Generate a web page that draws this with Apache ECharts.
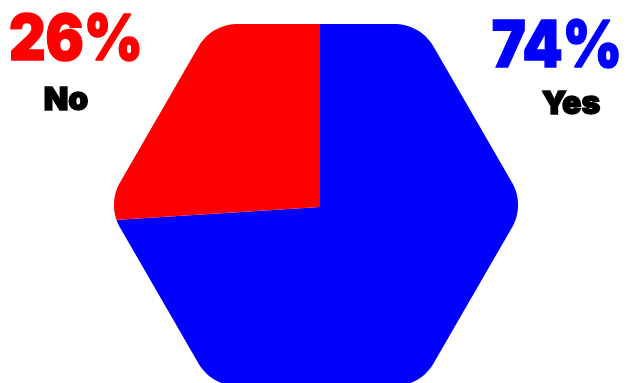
<!DOCTYPE html>
<html>
<head>
<meta charset="utf-8">
<script src="https://cdn.jsdelivr.net/npm/echarts@6/dist/echarts.min.js"></script>
<style>
html,body{margin:0;padding:0;background:#fff;}
#chart{width:628px;height:383px;}
</style>
</head>
<body>
<div id="chart"></div>
<script>
const categories = ['Yes', 'No'];
const values = [74, 26];
const colors = ['#0000ff', '#ff0000'];

const chart = echarts.init(document.getElementById('chart'), null, {renderer: 'canvas'});

// rounded hexagon mask (white outside the hexagon)
const hx = 316, hy = 205, R = 209, cr = 45;
function maskPoints() {
  const pts = [];
  const apo = R * Math.cos(Math.PI / 6);
  pts.push([hx, 700], [-200, 700], [-200, -200], [900, -200], [900, 700], [hx, 700]);
  pts.push([hx, hy + apo]);
  const d = cr / Math.sin(Math.PI / 3);
  const verts = [60, 0, -60, -120, -180, -240];
  verts.forEach(function (deg) {
    const t = deg * Math.PI / 180;
    const vx = hx + R * Math.cos(t), vy = hy + R * Math.sin(t);
    const ax = vx - d * Math.cos(t), ay = vy - d * Math.sin(t);
    for (let k = 0; k <= 20; k++) {
      const p = (deg + 30 - 60 * k / 20) * Math.PI / 180;
      pts.push([ax + cr * Math.cos(p), ay + cr * Math.sin(p)]);
    }
  });
  pts.push([hx, hy + apo]);
  return pts;
}

const total = values.reduce((a, b) => a + b, 0);
const pct = values.map(v => Math.round(v / total * 100) + '%');

const font = 'Inter, "Noto Sans", sans-serif';
function txt(x, y, s, color, size, sx) {
  return {type: 'text', z: 20, x: x, y: y, scaleX: sx, silent: true,
    style: {text: s, fill: color, stroke: color, lineWidth: 1.5, font: '900 ' + size + 'px ' + font, align: 'center', verticalAlign: 'middle'}};
}
chart.setOption({
  animation: false,
  series: [{
    type: 'pie',
    center: [320, 207],
    radius: 330,
    startAngle: 90,
    clockwise: true,
    silent: true,
    label: {show: false},
    labelLine: {show: false},
    emphasis: {disabled: true},
    itemStyle: {borderWidth: 0},
    data: categories.map((c, i) => ({name: c, value: values[i], itemStyle: {color: colors[i]}}))
  }],
  graphic: [
    {type: 'polygon', z: 10, silent: true, shape: {points: maskPoints()}, style: {fill: '#ffffff', stroke: null}},
    txt(76, 41, pct[1], colors[1], 63, 0.9),
    txt(66, 100, categories[1], '#000', 32, 1),
    txt(557, 47, pct[0], colors[0], 65, 0.88),
    txt(571, 104, categories[0], '#000', 32, 1)
  ]
});
</script>
</body>
</html>
